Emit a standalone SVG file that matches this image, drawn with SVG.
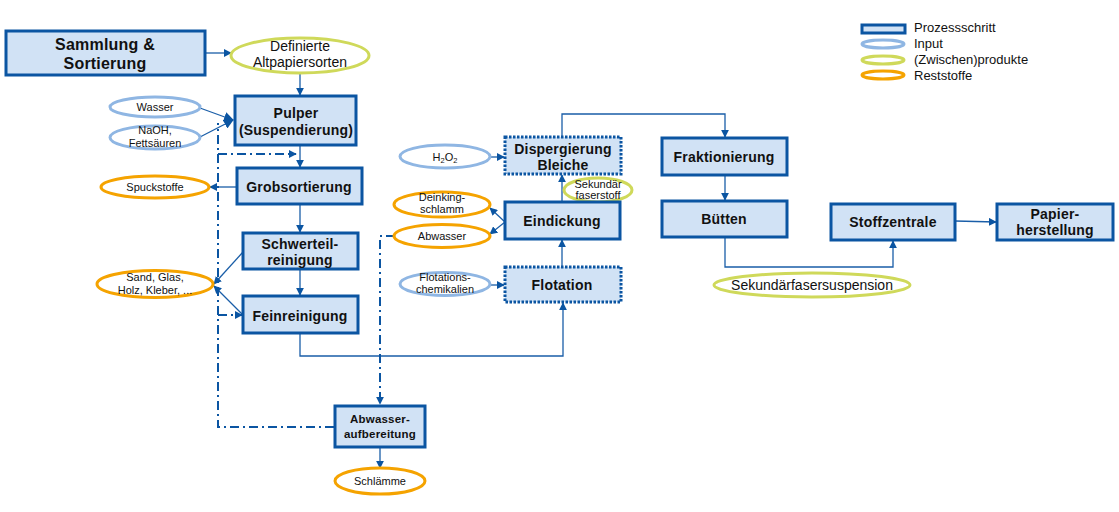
<svg xmlns="http://www.w3.org/2000/svg" width="1119" height="512" viewBox="0 0 1119 512">
<style>
.box{fill:#d1e2f5;stroke:#0b55a2;stroke-width:3}
.dot{fill:#d1e2f5;stroke:#0b55a2;stroke-width:3;stroke-dasharray:2.5 1.5}
.in{fill:#fff;stroke:#8fb6e3;stroke-width:3}
.pr{fill:#fff;stroke:#cfd95a;stroke-width:3}
.re{fill:#fff;stroke:#f5a300;stroke-width:3}
.t{font-family:"Liberation Sans",Arial,sans-serif;font-weight:bold;fill:#111;text-anchor:middle;font-size:14px;letter-spacing:0.2px}
.s{font-family:"Liberation Sans",Arial,sans-serif;fill:#111;text-anchor:middle;font-size:11px}
.l{font-family:"Liberation Sans",Arial,sans-serif;fill:#111;font-size:13px}
.c{fill:none;stroke:#1a5ea8;stroke-width:1.3}
.dd{fill:none;stroke:#0b55a2;stroke-width:2;stroke-dasharray:9 4 2 4}
</style>
<defs>
<marker id="a" viewBox="0 0 10 10" refX="9" refY="5" markerWidth="8" markerHeight="8" markerUnits="userSpaceOnUse" orient="auto"><path d="M0,0L10,5L0,10z" fill="#0b55a2"/></marker>
<marker id="b" viewBox="0 0 10 10" refX="9" refY="5" markerWidth="10" markerHeight="10" markerUnits="userSpaceOnUse" orient="auto"><path d="M0,0L10,5L0,10z" fill="#0b55a2"/></marker>
</defs>
<rect width="1119" height="512" fill="#fff"/>

<g id="connectors">
<path class="c" d="M205,53H231" marker-end="url(#a)"/>
<path class="c" d="M300,73V95" marker-end="url(#a)"/>
<path class="c" d="M200,108L233,120" marker-end="url(#b)"/>
<path class="c" d="M200,137L233,120" marker-end="url(#b)"/>
<path class="c" d="M300,145V167" marker-end="url(#a)"/>
<path class="c" d="M237,187H210" marker-end="url(#a)"/>
<path class="c" d="M300,204V232" marker-end="url(#a)"/>
<path class="c" d="M300,269V295" marker-end="url(#a)"/>
<path class="c" d="M243,252L214,284" marker-end="url(#a)"/>
<path class="c" d="M243,315L214,286" marker-end="url(#a)"/>
<path class="c" d="M300,333V356H563V303" stroke="#6f9fd4" marker-end="url(#a)"/>
<path class="c" d="M380,447V468" marker-end="url(#a)"/>
<path class="dd" d="M334,427H218V123"/>
<path class="dd" d="M218,154H296" marker-end="url(#a)"/>
<path class="dd" d="M218,315H242" marker-end="url(#a)"/>
<path class="dd" d="M395,236H380V404" marker-end="url(#a)"/>
<path class="c" d="M490,157H504" marker-end="url(#a)"/>
<path class="c" d="M562,202V175" marker-end="url(#a)"/>
<path class="c" d="M505,222L490,208" marker-end="url(#a)"/>
<path class="c" d="M505,222L490,234" marker-end="url(#a)"/>
<path class="c" d="M562,267V240" marker-end="url(#a)"/>
<path class="c" d="M491,285H504" marker-end="url(#a)"/>
<path class="c" d="M562,137V114H725V137" marker-end="url(#a)"/>
<path class="c" d="M725,175V200" marker-end="url(#a)"/>
<path class="c" d="M725,237V267H893V241" marker-end="url(#a)"/>
<path class="c" d="M955,221L996,222" marker-end="url(#a)"/>
</g>

<g id="sammlung"><rect class="box" x="6" y="31" width="199" height="44"/><text class="t" style="font-size:16px" x="105" y="50">Sammlung &amp;</text><text class="t" style="font-size:16px" x="105" y="69">Sortierung</text></g>
<g id="altpapier"><ellipse class="pr" cx="300" cy="55.5" rx="69" ry="17.5"/><text class="s" style="font-size:14px" x="300" y="51">Definierte</text><text class="s" style="font-size:14px" x="300" y="67">Altpapiersorten</text></g>
<g id="pulper"><rect class="box" x="235" y="96" width="121" height="49"/><text class="t" x="296" y="118">Pulper</text><text class="t" x="296" y="135">(Suspendierung)</text></g>
<g id="wasser"><ellipse class="in" cx="155" cy="107" rx="45" ry="10"/><text class="s" x="155" y="111">Wasser</text></g>
<g id="naoh"><ellipse class="in" cx="155" cy="137.5" rx="45" ry="11.5"/><text class="s" x="155" y="134">NaOH,</text><text class="s" x="155" y="147">Fettsäuren</text></g>
<g id="grob"><rect class="box" x="237" y="168" width="125" height="36"/><text class="t" x="299" y="192">Grobsortierung</text></g>
<g id="spuck"><ellipse class="re" cx="155" cy="187" rx="54" ry="11"/><text class="s" x="155" y="191">Spuckstoffe</text></g>
<g id="schwer"><rect class="box" x="243" y="233" width="115" height="36"/><text class="t" x="300" y="249">Schwerteil-</text><text class="t" x="300" y="265">reinigung</text></g>
<g id="fein"><rect class="box" x="243" y="296" width="115" height="37"/><text class="t" x="300" y="321">Feinreinigung</text></g>
<g id="sand"><ellipse class="re" cx="155" cy="284" rx="58" ry="13.5"/><text class="s" x="155" y="281">Sand, Glas,</text><text class="s" x="155" y="294">Holz, Kleber, ...</text></g>
<g id="abwasserauf"><rect class="box" x="335" y="406" width="90" height="41"/><text class="t" style="font-size:11.5px" x="380" y="423">Abwasser-</text><text class="t" style="font-size:11.5px" x="380" y="438">aufbereitung</text></g>
<g id="schlaemme"><ellipse class="re" cx="380" cy="481" rx="45" ry="13"/><text class="s" x="380" y="485">Schlämme</text></g>
<g id="h2o2"><ellipse class="in" cx="445" cy="156.5" rx="45" ry="11.5"/><text class="s" x="445" y="161">H<tspan font-size="7.5" dy="2">2</tspan><tspan dy="-2">O</tspan><tspan font-size="7.5" dy="2">2</tspan></text></g>
<g id="disp"><rect class="dot" x="505" y="137" width="116" height="37"/><text class="t" x="563" y="154">Dispergierung</text><text class="t" x="563" y="170">Bleiche</text></g>
<g id="sekfs"><ellipse class="pr" cx="598" cy="190" rx="34" ry="12"/><text class="s" x="598" y="188">Sekundär</text><text class="s" x="598" y="199">faserstoff</text></g>
<g id="eindick"><rect class="box" x="505" y="202" width="115" height="37"/><text class="t" x="562" y="226">Eindickung</text></g>
<g id="deinking"><ellipse class="re" cx="442" cy="204.5" rx="48" ry="12.5"/><text class="s" x="442" y="201">Deinking-</text><text class="s" x="442" y="213">schlamm</text></g>
<g id="abwasser"><ellipse class="re" cx="442" cy="236" rx="48" ry="11.5"/><text class="s" x="442" y="240">Abwasser</text></g>
<g id="flot"><rect class="dot" x="505" y="267" width="116" height="35"/><text class="t" x="562" y="290">Flotation</text></g>
<g id="flotchem"><ellipse class="in" cx="445" cy="284" rx="45" ry="11.5"/><text class="s" x="445" y="281">Flotations-</text><text class="s" x="445" y="293">chemikalien</text></g>
<g id="frakt"><rect class="box" x="662" y="138" width="125" height="37"/><text class="t" x="724" y="162">Fraktionierung</text></g>
<g id="buetten"><rect class="box" x="662" y="201" width="125" height="36"/><text class="t" x="724" y="224">Bütten</text></g>
<g id="sekfsusp"><ellipse class="pr" cx="812" cy="285" rx="98" ry="12"/><text class="s" style="font-size:14px" x="812" y="290">Sekundärfasersuspension</text></g>
<g id="stoff"><rect class="box" x="831" y="204" width="124" height="36"/><text class="t" x="893" y="227">Stoffzentrale</text></g>
<g id="papier"><rect class="box" x="997" y="204" width="116" height="36"/><text class="t" x="1055" y="219">Papier-</text><text class="t" x="1055" y="235">herstellung</text></g>

<g id="legend">
<rect class="box" x="862" y="25" width="43" height="8"/>
<ellipse class="in" cx="883" cy="44" rx="21" ry="4"/>
<ellipse class="pr" cx="883" cy="60" rx="21" ry="4"/>
<ellipse class="re" cx="883" cy="75" rx="21" ry="4"/>
<text class="l" x="914" y="32">Prozessschritt</text>
<text class="l" x="914" y="48">Input</text>
<text class="l" x="914" y="64">(Zwischen)produkte</text>
<text class="l" x="914" y="80">Reststoffe</text>
</g>
</svg>
